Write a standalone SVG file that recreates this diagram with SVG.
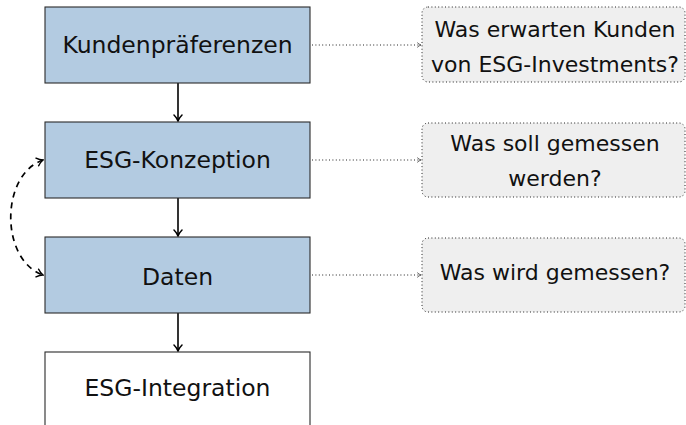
<svg xmlns="http://www.w3.org/2000/svg" width="686" height="425" viewBox="0 0 686 425">
  <style>
    .stage { fill: #b3cbe1; stroke: #2b2b2b; stroke-width: 1.1; }
    .plain { fill: #ffffff; stroke: #2b2b2b; stroke-width: 1.1; }
    .note { fill: #efefef; stroke: #222; stroke-width: 1; stroke-dasharray: 1 2.4; }
    .lbl { font-family: "DejaVu Sans", "Liberation Sans", sans-serif; font-size: 23.5px; fill: #111; text-anchor: middle; }
    .q { font-family: "DejaVu Sans", "Liberation Sans", sans-serif; font-size: 22px; fill: #111; text-anchor: middle; }
    .flow { fill: none; stroke: #000; stroke-width: 1.6; }
    .hint { fill: none; stroke: #222; stroke-width: 1; stroke-dasharray: 1 2.4; }
    .loop { fill: none; stroke: #000; stroke-width: 1.7; stroke-dasharray: 6 5; }
  </style>
  <defs>
    <marker id="tip" viewBox="-6 -5 8 10" refX="1" refY="0" markerWidth="8" markerHeight="10" markerUnits="userSpaceOnUse" orient="auto-start-reverse">
      <path d="M -5 -4 Q -2 -1 1 0 Q -2 1 -5 4" fill="none" stroke="#000" stroke-width="1.5" stroke-linecap="round"/>
    </marker>
    <marker id="tipSmall" viewBox="-6 -5 8 10" refX="1" refY="0" markerWidth="6" markerHeight="7" markerUnits="userSpaceOnUse" orient="auto">
      <path d="M -4 -3 Q -1.5 -0.8 1 0 Q -1.5 0.8 -4 3" fill="none" stroke="#222" stroke-width="1" stroke-linecap="round"/>
    </marker>
  </defs>

  <!-- connectors -->
  <g id="connectors">
    <path class="flow" d="M 178 83 V 121" marker-end="url(#tip)"/>
    <path class="flow" d="M 178 198 V 236" marker-end="url(#tip)"/>
    <path class="flow" d="M 178 313 V 351" marker-end="url(#tip)"/>
    <path class="hint" d="M 312 45 H 421" marker-end="url(#tipSmall)"/>
    <path class="hint" d="M 312 160 H 421" marker-end="url(#tipSmall)"/>
    <path class="hint" d="M 312 275 H 421" marker-end="url(#tipSmall)"/>
    <path class="loop" d="M 43 160 C 0 175, 0 260, 43 275" marker-start="url(#tip)" marker-end="url(#tip)"/>
  </g>

  <!-- process stages -->
  <g id="kundenpraeferenzen">
    <rect class="stage" x="45" y="7" width="265" height="76"/>
    <text class="lbl" x="177.5" y="53">Kundenpräferenzen</text>
  </g>
  <g id="esg-konzeption">
    <rect class="stage" x="45" y="122" width="265" height="76"/>
    <text class="lbl" x="177.5" y="167.5">ESG-Konzeption</text>
  </g>
  <g id="daten">
    <rect class="stage" x="45" y="237" width="265" height="76"/>
    <text class="lbl" x="177.5" y="284.5">Daten</text>
  </g>
  <g id="esg-integration">
    <rect class="plain" x="45" y="352" width="265" height="76"/>
    <text class="lbl" x="177.5" y="396">ESG-Integration</text>
  </g>

  <!-- guiding questions -->
  <g id="frage-kunden">
    <rect class="note" x="422" y="7" width="263" height="75" rx="6"/>
    <text class="q" x="555" y="36.5">Was erwarten Kunden</text>
    <text class="q" x="555" y="72">von ESG-Investments?</text>
  </g>
  <g id="frage-konzeption">
    <rect class="note" x="422" y="123" width="263" height="74" rx="6"/>
    <text class="q" x="555" y="151">Was soll gemessen</text>
    <text class="q" x="555" y="186">werden?</text>
  </g>
  <g id="frage-daten">
    <rect class="note" x="422" y="238" width="263" height="74" rx="6"/>
    <text class="q" x="555" y="280">Was wird gemessen?</text>
  </g>
</svg>
